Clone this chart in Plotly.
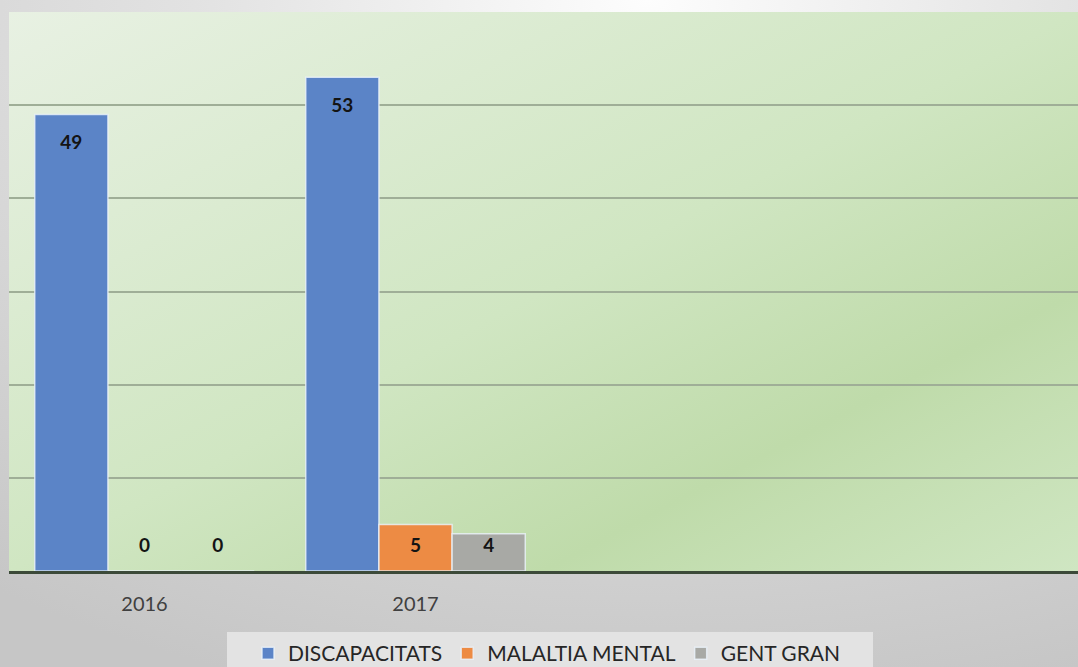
import base64
import plotly.graph_objects as go

years = ['2016', '2017']
series = ['DISCAPACITATS', 'MALALTIA MENTAL', 'GENT GRAN']
values = {
    'DISCAPACITATS': [49, 53],
    'MALALTIA MENTAL': [0, 5],
    'GENT GRAN': [0, 4],
}
colors = ['#5b84c7', '#ed8b44', '#a8a9a5']

font = 'Lato'
bargap = 0.19
bar_w = (1 - bargap) / len(series)


def svg_uri(svg):
    return 'data:image/svg+xml;base64,' + base64.b64encode(svg.encode()).decode()


paper_bg = svg_uri(
    '<svg xmlns="http://www.w3.org/2000/svg" width="100" height="100" preserveAspectRatio="none">'
    '<defs><radialGradient id="g" cx="0.6" cy="0" r="1.05">'
    '<stop offset="0" stop-color="#fdfdfd"/><stop offset="0.4" stop-color="#e2e2e2"/>'
    '<stop offset="1" stop-color="#c6c6c6"/></radialGradient></defs>'
    '<rect width="100" height="100" fill="url(#g)"/></svg>'
)
plot_bg = svg_uri(
    '<svg xmlns="http://www.w3.org/2000/svg" width="100" height="100" preserveAspectRatio="none">'
    '<defs><linearGradient id="g" x1="0" y1="0" x2="1" y2="1">'
    '<stop offset="0" stop-color="#e8f1e3"/><stop offset="0.5" stop-color="#d0e6c2"/>'
    '<stop offset="0.75" stop-color="#bfdbaa"/><stop offset="1" stop-color="#cfe6c2"/>'
    '</linearGradient></defs>'
    '<rect width="100" height="100" fill="url(#g)"/></svg>'
)

W, H = 1078, 667
ml, mr, mt, mb = 9, 0, 12, 96
pw, ph = W - ml - mr, H - mt - mb

fig = go.Figure()
xs = list(range(len(years)))
for i, name in enumerate(series):
    fig.add_trace(go.Bar(
        x=xs, y=values[name], name=name,
        marker=dict(color=colors[i], line=dict(color='rgba(235,242,250,0.8)', width=1.5)),
        hoverinfo='y',
    ))
for i, name in enumerate(series):
    off = (i - (len(series) - 1) / 2) * bar_w
    fig.add_trace(go.Scatter(
        x=[x + off for x in xs],
        y=[max(v - 3.2, 2.5) for v in values[name]],
        text=[str(v) for v in values[name]],
        mode='text', textposition='middle center',
        textfont=dict(family=font, size=19, color='#141414', weight='bold'),
        showlegend=False, hoverinfo='skip',
    ))

# legend box drawn as a shape so it can be wider than plotly's own padding
fig.add_shape(
    type='rect', xref='paper', yref='paper', layer='below',
    x0=(227 - ml) / pw, x1=(873 - ml) / pw,
    y0=(mt + ph - 690) / ph, y1=(mt + ph - 632) / ph,
    fillcolor='#e3e3e3', line_width=0,
)

fig.update_layout(
    width=W, height=H,
    margin=dict(l=ml, r=mr, t=mt, b=mb, autoexpand=False),
    barmode='group', bargap=bargap, bargroupgap=0,
    paper_bgcolor='#d4d4d4', plot_bgcolor='rgba(0,0,0,0)',
    font=dict(family=font, color='#404040'),
    showlegend=True,
    legend=dict(
        orientation='h', xref='container', yref='container',
        x=547 / W, xanchor='center', y=(H - 633) / H, yanchor='top',
        bgcolor='rgba(0,0,0,0)', font=dict(size=21, color='#262626'),
        traceorder='normal', itemwidth=30,
    ),
    images=[
        dict(source=paper_bg, xref='paper', yref='paper', x=-ml / pw, y=1 + mt / ph,
             sizex=W / pw, sizey=(H + 20) / ph, sizing='stretch', layer='below'),
        dict(source=plot_bg, xref='paper', yref='paper', x=0, y=1,
             sizex=1, sizey=1, sizing='stretch', layer='below'),
    ],
    xaxis=dict(
        range=[-0.5, -0.5 + pw / 271], tickvals=xs, ticktext=years,
        showgrid=False, zeroline=False, showline=True, linecolor='#3c4a39', linewidth=3,
        ticks='outside', ticklen=13, tickcolor='rgba(0,0,0,0)',
        tickfont=dict(family=font, size=20, color='#404040'),
    ),
    yaxis=dict(
        range=[0, 60], dtick=10, showticklabels=False, zeroline=False,
        showgrid=True, gridcolor='#9fae97', gridwidth=2,
    ),
)

page_fix = (
    "document.documentElement.style.margin='0';"
    "document.documentElement.style.overflow='hidden';"
    "document.body.style.margin='0';"
    "document.body.style.overflow='hidden';"
)
fig.write_html('out.html', config={'displayModeBar': False}, post_script=page_fix)
